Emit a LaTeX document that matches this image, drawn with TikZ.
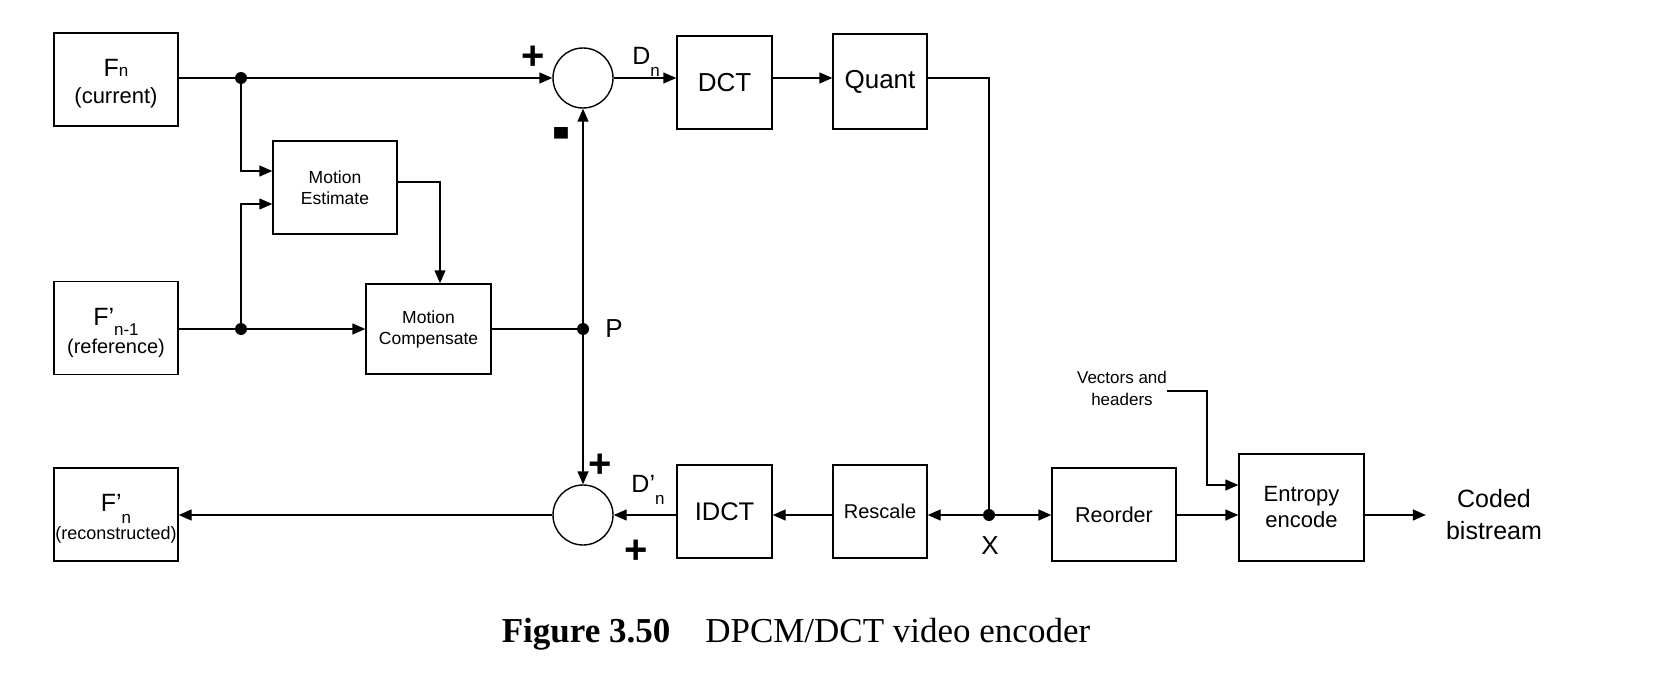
\documentclass[tikz,border=0pt]{standalone}
\usepackage{fontspec}
\setmainfont{Liberation Sans}
\newfontfamily\capfont{Liberation Serif}
\usetikzlibrary{arrows.meta}

% font size helper: size and baseline skip in pt
\newcommand{\fsz}[2]{\fontsize{#1}{#2}\selectfont}
% lowered subscript used in the signal and frame labels
\newcommand{\lowsub}[2]{\raisebox{#1}{\fsz{17}{17}#2}}

\tikzset{
  blk/.style 2 args={draw, line width=1.4pt, minimum width=#1pt, minimum height=#2pt,
    inner sep=0pt, align=center},
  sumnode/.style={draw, circle, line width=1.4pt, minimum size=60pt, inner sep=0pt},
  jdot/.style={circle, fill, minimum size=12pt, inner sep=0pt},
  wire/.style={line width=1.4pt},
  arr/.style={line width=1.4pt, -{Triangle[length=13pt,width=11pt]}},
  sign/.style={font=\bfseries\fsz{40}{40}, inner sep=0pt},
  lbl/.style={font=\fsz{25}{25}, inner sep=0pt},
  txt/.style={anchor=base, inner sep=0pt}
}

\begin{document}
\begin{tikzpicture}[x=1pt, y=-1pt]
\useasboundingbox (0,0) rectangle (1658,674);

% ---- frame stores ----
\node[blk={124}{93}] (fn) at (116,79.5) {};
\node[txt, font=\fsz{25}{25}] (fnt) at (116,77) {F\fsz{17}{17}n};
\node[txt, font=\fsz{22}{22}] (fnc) at (116,104) {(current)};

\node[blk={124}{93}] (fref) at (116,328) {};
\node[txt, font=\fsz{25}{25}] (freft) at (116,325) {F’\lowsub{-0.42em}{n-1}};
\node[txt, font=\fsz{20}{20}] (frefc) at (116,353) {(reference)};

\node[blk={124}{93}] (frec) at (116,514.5) {};
\node[txt, font=\fsz{25}{25}] (frect) at (116,511) {F’\lowsub{-0.5em}{n}};
\node[txt, font=\fsz{18}{18}] (frecc) at (116,539.5) {(reconstructed)};

% ---- motion blocks ----
\node[blk={124}{93}, font=\fsz{17.5}{21}] (me) at (335,187.5) {Motion\\Estimate};
\node[blk={125}{90}, font=\fsz{17.5}{21}] (mc) at (428.5,329) {Motion\\Compensate};

% ---- summing junctions ----
\node[sumnode] (s1) at (583,78) {};
\node[sumnode] (s2) at (583,515) {};

% ---- forward path ----
\node[blk={95}{93}, font=\fsz{26}{26}] (dct) at (724.5,82.5) {DCT};
\node[blk={94}{95}, font=\fsz{26}{26}] (quant) at (880,81.5) {Quant};

% ---- reconstruction path ----
\node[blk={95}{93}, font=\fsz{25.5}{26}] (idct) at (724.5,511.5) {IDCT};
\node[blk={94}{93}, font=\fsz{20}{20}] (resc) at (880,511.5) {Rescale};

% ---- entropy coding ----
\node[blk={124}{93}, font=\fsz{21.5}{22}] (reord) at (1114,514.5) {Reorder};
\node[blk={125}{107}, font=\fsz{22}{26}] (ent) at (1301.5,507.5) {Entropy\\encode};
\node[font=\fsz{17}{22}, align=center, inner sep=0pt] (vh) at (1122,388) {Vectors and\\headers};
\node[font=\fsz{25}{32}, align=center, inner sep=0pt] (cb) at (1494,515) {Coded\\bistream};

% ---- junction dots ----
\node[jdot] (d1) at (241,78) {};
\node[jdot] (d2) at (241,329) {};
\node[jdot] (p) at (583,329) {};
\node[jdot] (xd) at (989,515) {};
\coordinate (mek) at (440,182);
\coordinate (vk) at (1207,485);

% ---- signs and signal names ----
\node[sign] (pl1) at (533,58) {+};
\node[sign, font=\bfseries\fsz{54}{54}] (mi1) at (561,143) {\scalebox{1}[1.8]{-}};
\node[sign] (pl2) at (600,466) {+};
\node[sign] (pl3) at (636,552) {+};
\node[lbl] (dn) at (646,62) {D\lowsub{-0.45em}{n}};
\node[lbl] (dpn) at (648,490) {D’\lowsub{-0.45em}{n}};
\node[lbl, font=\fsz{26}{26}] (pl) at (614,329) {P};
\node[lbl, font=\fsz{26}{26}] (xl) at (990,546) {X};

% ---- connectors ----
\draw[wire] (fn.east |- d1) -- (d1);
\draw[arr] (d1) -- (s1.west);
\draw[arr] (s1.east) -- (s1.east -| dct.west);
\draw[arr] (dct.east |- s1) -- (quant.west |- s1);
\draw[wire] (quant.east |- s1) -| (xd);

\draw[arr] (d1) |- ([yshift=16.5pt]me.west);
\draw[arr] (d2) |- ([yshift=-16.5pt]me.west);
\draw[arr] (me.east |- mek) -| (mek |- mc.north);
\draw[wire] (fref.east |- d2) -- (d2);
\draw[arr] (d2) -- (mc.west);
\draw[wire] (mc.east) -- (p);
\draw[arr] (p) -- (s1.south);
\draw[arr] (p) -- (s2.north);

\draw[arr] (xd) -- (xd -| resc.east);
\draw[arr] (xd) -- (xd -| reord.west);
\draw[arr] (s2 -| resc.west) -- (s2 -| idct.east);
\draw[arr] (s2 -| idct.west) -- (s2.east);
\draw[arr] (s2.west) -- (s2 -| frec.east);

\draw[arr] (s2 -| reord.east) -- (s2 -| ent.west);
\draw[arr] ([yshift=-3pt]vh.east) -| (vk) -- (vk -| ent.west);
\draw[arr] (s2 -| ent.east) -- ([xshift=-20pt]cb.west |- s2);

% ---- caption ----
\node[font=\capfont\fsz{35}{35}, inner sep=0pt] (cap) at (796,634)
  {\textbf{Figure 3.50}\hspace{1em}DPCM/DCT video encoder};
\end{tikzpicture}
\end{document}
